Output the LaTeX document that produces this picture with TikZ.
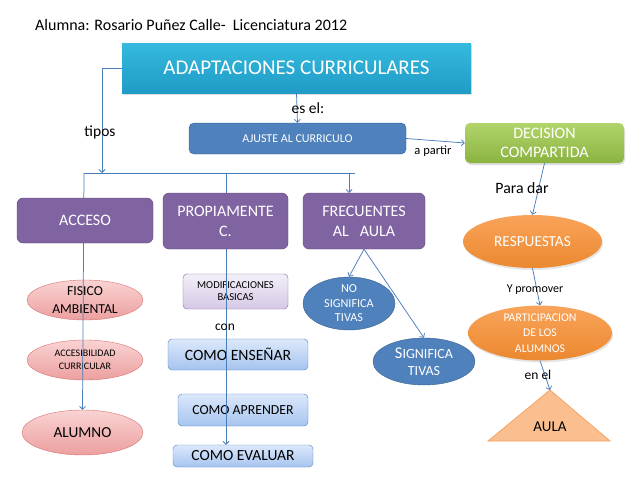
\documentclass[tikz,border=0pt]{standalone}
\usepackage{fontspec}
\setmainfont{Carlito}
\usetikzlibrary{arrows.meta,positioning,shapes.geometric,shadows}

\definecolor{lineblue}{HTML}{4A7EBB}
\definecolor{cyantop}{HTML}{35B9DE}
\definecolor{cyanbot}{HTML}{1F9CC6}
\definecolor{ajblue}{HTML}{4F81BD}
\definecolor{ajline}{HTML}{385D8A}
\definecolor{greentop}{HTML}{B2D46B}
\definecolor{greenbot}{HTML}{8AB340}
\definecolor{purplefill}{HTML}{8064A2}
\definecolor{purpleline}{HTML}{5C4776}
\definecolor{pinktop}{HTML}{FAD3D3}
\definecolor{pinkbot}{HTML}{EC9F9F}
\definecolor{pinkline}{HTML}{D97373}
\definecolor{lilactop}{HTML}{F3EFF8}
\definecolor{lilacbot}{HTML}{D5C9E6}
\definecolor{comotop}{HTML}{DCE8FB}
\definecolor{comobot}{HTML}{A6C4EF}
\definecolor{orangetop}{HTML}{F9A45A}
\definecolor{orangebot}{HTML}{EB882F}
\definecolor{aulafill}{HTML}{FBBE8E}
\definecolor{aulaline}{HTML}{F4A261}

\begin{document}
\begin{tikzpicture}[x=1pt,y=-1pt,>={Straight Barb[length=3pt,width=6pt]},
  link/.style={draw=lineblue,line width=0.75pt},
  arr/.style={link,->},
  fsz/.style 2 args={font=\fontsize{#1}{#2}\selectfont},
  lbl/.style={inner sep=0pt,text=black},
  boxbase/.style={inner sep=0pt,align=center},
  purplebox/.style={boxbase,draw=purpleline,fill=purplefill,rounded corners=6pt,text=white,fsz={16}{20}},
  pinkell/.style={boxbase,ellipse,draw=pinkline,top color=pinktop,bottom color=pinkbot,text=black},
  comobox/.style={boxbase,draw=ajblue,top color=comotop,bottom color=comobot,rounded corners=4pt,text=black},
  orangeell/.style={boxbase,ellipse,top color=orangetop,bottom color=orangebot,text=white,drop shadow={opacity=0.2,shadow xshift=1pt,shadow yshift=-2pt}},
  blueell/.style={boxbase,ellipse,draw=ajline,fill=ajblue,text=white}]

\fill[white] (0,0) rectangle (638,479);
\useasboundingbox (0,0) rectangle (638,479);

\node[lbl,anchor=west,fsz={16}{19}] (title) at (35,25) {Alumna: Rosario Puñez Calle-\ \ Licenciatura 2012};

% main boxes
\node[boxbase,top color=cyantop,bottom color=cyanbot,text=white,minimum width=349,minimum height=50,fsz={21}{24},drop shadow={opacity=0.25,shadow xshift=1pt,shadow yshift=-2pt}] (adapt) at (296.5,68) {ADAPTACIONES CURRICULARES};
\node[boxbase,draw=ajline,fill=ajblue,rounded corners=5pt,text=white,minimum width=217,minimum height=31,fsz={12}{14}] (ajuste) at (297.5,138.5) {AJUSTE AL CURRICULO};
\node[boxbase,top color=greentop,bottom color=greenbot,rounded corners=5pt,text=white,minimum width=159,minimum height=40,fsz={16}{19},drop shadow={opacity=0.25,shadow xshift=1pt,shadow yshift=-2pt}] (decision) at (544.5,143) {DECISION\\COMPARTIDA};

% lower nodes
\node[pinkell,minimum width=116,minimum height=40,fsz={13.7}{18}] (fisico) at (85,300) {FISICO\\AMBIENTAL};
\node[pinkell,minimum width=116,minimum height=40,fsz={10}{13}] (accesib) at (85,360) {ACCESIBILIDAD\\CURRICULAR};
\node[pinkell,minimum width=121,minimum height=45,fsz={15.3}{18}] (alumno) at (82.5,432.5) {ALUMNO};
\node[boxbase,draw=purplefill,top color=lilactop,bottom color=lilacbot,rounded corners=4pt,text=black,minimum width=105,minimum height=35,fsz={10.6}{12}] (modif) at (235.5,291.5) {MODIFICACIONES\\BASICAS};
\node[comobox,minimum width=140,minimum height=31,fsz={15.7}{18}] (ensenar) at (238,354.5) {COMO ENSEÑAR};
\node[comobox,minimum width=130,minimum height=32,fsz={13.8}{16}] (aprender) at (243,410) {COMO APRENDER};
\node[comobox,minimum width=140,minimum height=22,fsz={15.5}{17}] (evaluar) at (243,456) {COMO EVALUAR};
\node[blueell,minimum width=92,minimum height=53,fsz={12.2}{14.5}] (nosig) at (349,303.5) {NO\\SIGNIFICA\\TIVAS};
\node[blueell,minimum width=102,minimum height=47,fsz={14}{17}] (sig) at (424,361.5) {{\fontsize{16.5}{17}\selectfont S}IGNIFICA\\TIVAS};
\node[orangeell,minimum width=139,minimum height=53,fsz={15.3}{17}] (resp) at (532.5,241.5) {RESPUESTAS};
\node[orangeell,minimum width=144,minimum height=50,fsz={11.8}{15.5}] (part) at (540,333) {PARTICIPACION\\DE LOS\\ALUMNOS};
\draw[draw=aulaline,fill=aulafill,line width=0.75pt] (488,441) -- (550,390) coordinate (aulatop) -- (610,441) -- cycle;
\node[lbl,fsz={15}{17}] (aula) at (550,427) {AULA};

% connectors
\coordinate (barL) at (84,173);
\coordinate (barR) at (355,173);
\coordinate (barP) at (226,173);
\coordinate (barF) at (349,173);
\coordinate (tiposend) at (102,173);
\draw[link] (barL) -- (barR);
\draw[arr] (adapt.west) -| (tiposend);
\draw[arr] (adapt.south) -- (ajuste.north);
\draw[arr] (ajuste.east) -- (decision.west);
\draw[arr] (barL) -- (alumno.north);
\draw[arr] (barP) -- (barP |- evaluar.north);
\draw[arr] (barF) -- (barF |- 0,193);
\draw[arr] (decision.south) -- (resp.north);
\draw[arr] (resp.south) -- (part.north);
\draw[arr] (part.south) -- (aulatop);

% purple boxes
\node[purplebox,minimum width=136,minimum height=45] (acceso) at (85,220.5) {ACCESO};
\node[purplebox,minimum width=125,minimum height=56] (propia) at (225.5,221) {PROPIAMENTE\\C.};
\node[purplebox,minimum width=122,minimum height=56] (frec) at (364,221) {FRECUENTES\\AL\ \ \ AULA};
\draw[arr] (frec.south) -- (nosig.north);
\draw[arr] (frec.south) -- (sig.north);

% labels
\node[lbl,fsz={15.5}{17}] (ltipos) at (100,132) {tipos};
\node[lbl,fsz={15.5}{17}] (lesel) at (308,108) {es el:};
\node[lbl,fsz={12.5}{14}] (lpartir) at (433,151) {a partir};
\node[lbl,fsz={15.8}{17}] (lpara) at (522,188) {Para dar};
\node[lbl,fsz={12}{14}] (lprom) at (535,290) {Y promover};
\node[lbl,fsz={13.5}{15}] (lcon) at (225,327) {con};
\node[lbl,fsz={13.5}{15}] (lenel) at (538,375) {en el};
\end{tikzpicture}
\end{document}
